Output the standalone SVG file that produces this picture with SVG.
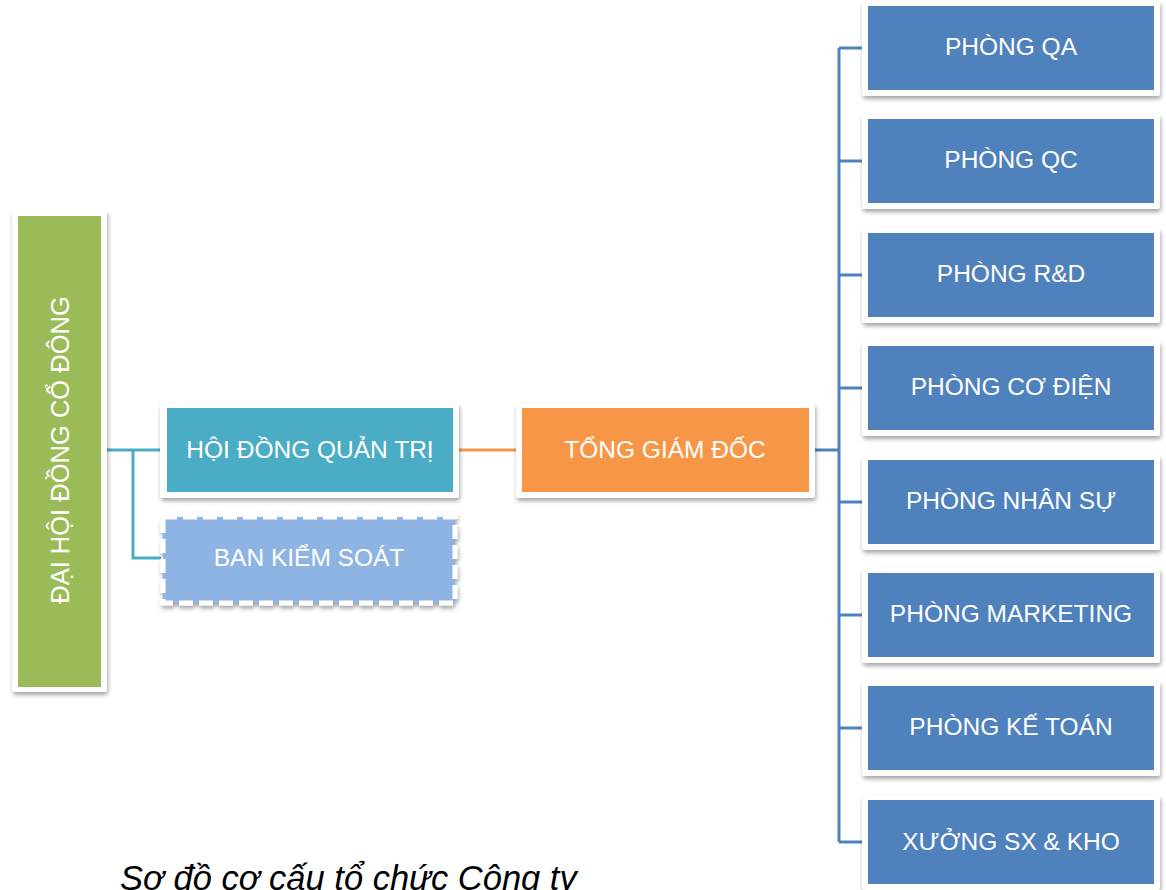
<svg xmlns="http://www.w3.org/2000/svg" width="1166" height="890" viewBox="0 0 1166 890">
<defs>
<filter id="sh" x="-10%" y="-10%" width="120%" height="130%">
<feDropShadow dx="1" dy="3" stdDeviation="2" flood-color="#000" flood-opacity="0.35"/>
</filter>
<style>
.frame{fill:#fff;filter:url(#sh)}
.lbl{font-family:"Liberation Sans",Arial,sans-serif;font-size:24.5px;fill:#fff;text-anchor:middle}
.blue{fill:#4F81BD}
.conn{fill:none;stroke-width:3;stroke-linejoin:miter}
</style>
</defs>
<rect width="1166" height="890" fill="#fff"/>
<g id="connectors">
<path class="conn" stroke="#4BACC6" d="M107,450 H160 M133,450 V558 H161"/>
<path class="conn" stroke="#F79646" d="M459,450 H516"/>
<path class="conn" stroke="#4F81BD" d="M815,450 H839 M839,48 V842 M839,48 H862 M839,161 H862 M839,275 H862 M839,388 H862 M839,502 H862 M839,615 H862 M839,728 H862 M839,842 H862"/>
</g>
<g id="dhdcd">
<rect class="frame" x="12" y="210" width="95" height="482" rx="3"/>
<rect x="18" y="216" width="83" height="471" fill="#9BBB59"/>
<text class="lbl" transform="translate(68.5,450) rotate(-90)" x="0" y="0" style="font-size:25.5px">ĐẠI HỘI ĐỒNG CỔ ĐÔNG</text>
</g>
<g id="hdqt">
<rect class="frame" x="160" y="403" width="299" height="95" rx="3"/>
<rect x="167" y="408" width="286" height="84" fill="#4BACC6"/>
<text class="lbl" x="310" y="458">HỘI ĐỒNG QUẢN TRỊ</text>
</g>
<g id="bks">
<rect x="163" y="517" width="292" height="86" fill="#8EB4E3" stroke="#fff" stroke-width="5" stroke-dasharray="14 6" filter="url(#sh)"/>
<text class="lbl" x="309" y="566">BAN KIỂM SOÁT</text>
</g>
<g id="tgd">
<rect class="frame" x="516" y="403" width="299" height="95" rx="3"/>
<rect x="522" y="408" width="287" height="84" fill="#F79646"/>
<text class="lbl" x="665" y="458">TỔNG GIÁM ĐỐC</text>
</g>
<g id="qa">
<rect class="frame" x="862" y="1" width="298" height="95" rx="3"/>
<rect class="blue" x="868" y="6" width="286" height="84"/>
<text class="lbl" x="1011" y="55">PHÒNG QA</text>
</g>
<g id="qc">
<rect class="frame" x="862" y="114" width="298" height="95" rx="3"/>
<rect class="blue" x="868" y="119" width="286" height="84"/>
<text class="lbl" x="1011" y="168">PHÒNG QC</text>
</g>
<g id="rd">
<rect class="frame" x="862" y="228" width="298" height="95" rx="3"/>
<rect class="blue" x="868" y="233" width="286" height="84"/>
<text class="lbl" x="1011" y="282">PHÒNG R&amp;D</text>
</g>
<g id="codien">
<rect class="frame" x="862" y="341" width="298" height="95" rx="3"/>
<rect class="blue" x="868" y="346" width="286" height="84"/>
<text class="lbl" x="1011" y="395">PHÒNG CƠ ĐIỆN</text>
</g>
<g id="nhansu">
<rect class="frame" x="862" y="455" width="298" height="95" rx="3"/>
<rect class="blue" x="868" y="460" width="286" height="84"/>
<text class="lbl" x="1011" y="509">PHÒNG NHÂN SỰ</text>
</g>
<g id="marketing">
<rect class="frame" x="862" y="568" width="298" height="95" rx="3"/>
<rect class="blue" x="868" y="573" width="286" height="84"/>
<text class="lbl" x="1011" y="622">PHÒNG MARKETING</text>
</g>
<g id="ketoan">
<rect class="frame" x="862" y="681" width="298" height="95" rx="3"/>
<rect class="blue" x="868" y="686" width="286" height="84"/>
<text class="lbl" x="1011" y="735">PHÒNG KẾ TOÁN</text>
</g>
<g id="xuong">
<rect class="frame" x="862" y="795" width="298" height="95" rx="3"/>
<rect class="blue" x="868" y="800" width="286" height="84"/>
<text class="lbl" x="1011" y="850">XƯỞNG SX &amp; KHO</text>
</g>
<text x="120" y="890" font-family="'Liberation Sans',Arial,sans-serif" font-size="34.5" font-style="italic" fill="#000">Sơ đồ cơ cấu tổ chức Công ty</text>
</svg>
